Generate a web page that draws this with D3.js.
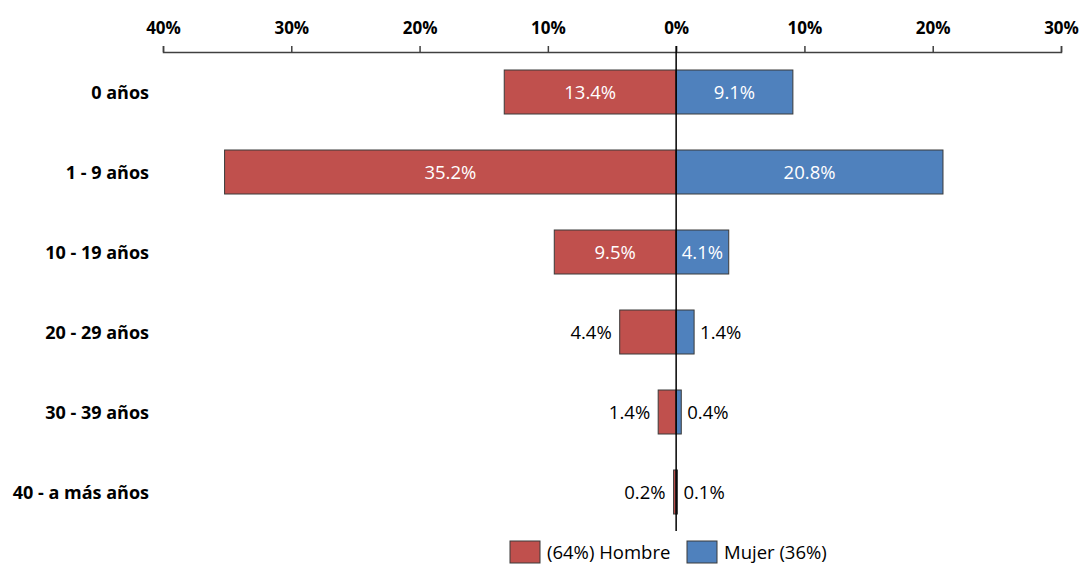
<!DOCTYPE html>
<html>
<head>
<meta charset="utf-8">
<script src="https://cdn.jsdelivr.net/npm/d3@7/dist/d3.min.js"></script>
<style>
  body { margin: 0; background: #fff; }
  svg { display: block; font-family: "Open Sans", "Noto Sans", sans-serif; }
</style>
</head>
<body>
<svg id="chart" width="1083" height="565"></svg>
<script>
const ageGroups = ["0 años", "1 - 9 años", "10 - 19 años", "20 - 29 años", "30 - 39 años", "40 - a más años"];
const hombre = [13.4, 35.2, 9.5, 4.4, 1.4, 0.2];
const mujer  = [9.1, 20.8, 4.1, 1.4, 0.4, 0.1];
const tickValues = [-40, -30, -20, -10, 0, 10, 20, 30];
const tickLabels = ["40%", "30%", "20%", "10%", "0%", "10%", "20%", "30%"];
const seriesNames = ["(64%) Hombre", "Mujer (36%)"];
const colors = { hombre: "#C0504D", mujer: "#4F81BD" };

const svg = d3.select("#chart");
const axisY = 52;

const x = d3.scaleLinear().domain([-40, 30]).range([163, 1061]);
const y = d3.scaleBand().domain(ageGroups).range([axisY, 532]).paddingInner(0.45).paddingOuter(0.225);

// top axis
const axis = d3.axisTop(x)
  .tickValues(tickValues)
  .tickSize(6)
  .tickSizeOuter(6)
  .tickFormat((d, i) => tickLabels[i]);
const gAxis = svg.append("g").attr("transform", `translate(0,${axisY})`).call(axis);
gAxis.select(".domain").attr("stroke", "#404040").attr("stroke-width", 1.5);
gAxis.selectAll(".tick line").attr("stroke", "#404040").attr("stroke-width", 1.5);
gAxis.selectAll(".tick text")
  .attr("y", -18)
  .attr("font-size", 17)
  .attr("font-weight", "bold")
  .attr("fill", "#000")
  .attr("font-family", "'Open Sans', 'Noto Sans', sans-serif");

// category labels
svg.append("g").selectAll("text")
  .data(ageGroups)
  .join("text")
  .attr("x", 149)
  .attr("y", d => y(d) + y.bandwidth() / 2 + 1)
  .attr("dy", "0.35em")
  .attr("text-anchor", "end")
  .attr("font-size", 18)
  .attr("font-weight", "bold")
  .attr("fill", "#000")
  .text(d => d);

const rows = ageGroups.map((g, i) => ({ group: g, h: hombre[i], m: mujer[i] }));

// Hombre bars (left)
svg.append("g").selectAll("rect")
  .data(rows)
  .join("rect")
  .attr("x", d => x(-d.h))
  .attr("y", d => y(d.group))
  .attr("width", d => x(0) - x(-d.h))
  .attr("height", y.bandwidth())
  .attr("fill", colors.hombre)
  .attr("stroke", "#3a3a3a")
  .attr("stroke-width", 1);

// Mujer bars (right)
svg.append("g").selectAll("rect")
  .data(rows)
  .join("rect")
  .attr("x", x(0))
  .attr("y", d => y(d.group))
  .attr("width", d => x(d.m) - x(0))
  .attr("height", y.bandwidth())
  .attr("fill", colors.mujer)
  .attr("stroke", "#3a3a3a")
  .attr("stroke-width", 1);

// centre line at 0
svg.append("line")
  .attr("x1", x(0)).attr("x2", x(0))
  .attr("y1", axisY - 6).attr("y2", 531)
  .attr("stroke", "#000")
  .attr("stroke-width", 1.5);

const fmt = v => v.toFixed(1) + "%";

// value labels: inside (white) for wide bars, outside (black) otherwise
const insideMinH = 5, insideMinM = 4;
svg.append("g").selectAll("text")
  .data(rows)
  .join("text")
  .attr("x", d => d.h >= insideMinH ? (x(-d.h) + x(0)) / 2 : x(-d.h) - 8)
  .attr("y", d => y(d.group) + y.bandwidth() / 2 + 1)
  .attr("dy", "0.35em")
  .attr("text-anchor", d => d.h >= insideMinH ? "middle" : "end")
  .attr("font-size", 18.5)
  .attr("fill", d => d.h >= insideMinH ? "#fff" : "#000")
  .text(d => fmt(d.h));

svg.append("g").selectAll("text")
  .data(rows)
  .join("text")
  .attr("x", d => d.m >= insideMinM ? (x(d.m) + x(0)) / 2 : x(d.m) + 6)
  .attr("y", d => y(d.group) + y.bandwidth() / 2 + 1)
  .attr("dy", "0.35em")
  .attr("text-anchor", d => d.m >= insideMinM ? "middle" : "start")
  .attr("font-size", 18.5)
  .attr("fill", d => d.m >= insideMinM ? "#fff" : "#000")
  .text(d => fmt(d.m));

// legend
const legend = svg.append("g");
const legendItems = [
  { name: seriesNames[0], color: colors.hombre, x: 510 },
  { name: seriesNames[1], color: colors.mujer, x: 687 }
];
legendItems.forEach(it => {
  legend.append("rect")
    .attr("x", it.x).attr("y", 541)
    .attr("width", 30).attr("height", 22)
    .attr("fill", it.color)
    .attr("stroke", "#3a3a3a").attr("stroke-width", 1);
  legend.append("text")
    .attr("x", it.x + 37).attr("y", 553)
    .attr("dy", "0.35em")
    .attr("font-size", 18.5)
    .attr("fill", "#000")
    .text(it.name);
});
</script>
</body>
</html>
